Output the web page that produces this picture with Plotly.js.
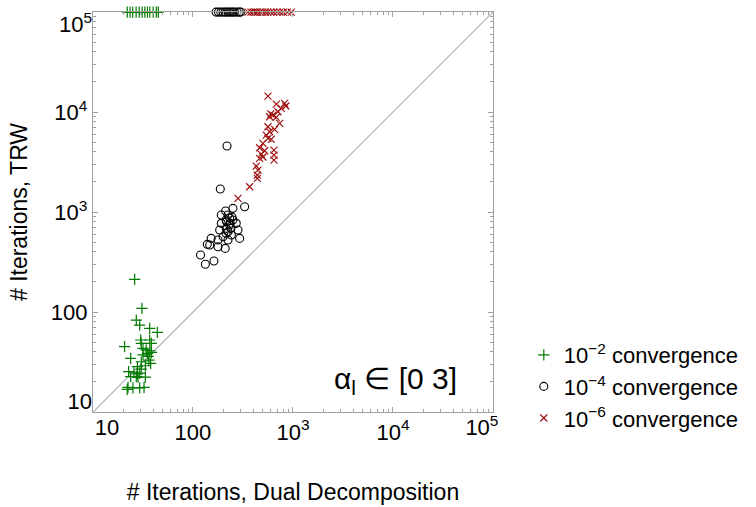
<!DOCTYPE html>
<html>
<head>
<meta charset="utf-8">
<script src="https://cdn.plot.ly/plotly-3.0.1.min.js"></script>
<style>html,body{margin:0;padding:0;background:#fff;}#chart{width:756px;height:507px;}</style>
</head>
<body>
<div id="chart"></div>
<script>
// 10^-2 convergence (green +)
const dd_e2 = [26.1,30.9,27.1,29.3,36.9,44,30,36.9,30.4,38.3,20.7,31.6,34,37,35,38.5,31.6,23.8,36.3,30.4,37.7,27.8,33.4,22.7,25.7,27.8,29.3,23.8,28.2,33.4,22.4,25.1,29.3,22,32.4,27.1,30.4,35.7,
  22,23.5,25,27,29,31,33,35,37,40,43,45];
const trw_e2 = [212,109,83,74,68.7,62.7,52.5,52.5,48.6,48.6,45,43.3,41.9,41,38.6,39.5,37.2,34.4,33.1,31.8,30.7,28.5,29,25.3,24.7,24,24.5,22.6,22.3,22.3,17.6,17.4,17.4,16.8,17.6,22.6,26.8,36,
  100000,100000,100000,100000,100000,100000,100000,100000,100000,100000,100000,100000];
// 10^-4 convergence (black o)
const dd_e4 = [219,187.6,328.5,251,212,224,214,251,271,192,233,215,240,185,282,224,214,242,200,293,152,178,224,147,178,210,139,119,133,162,233,246,236,192,217,
  170,180,190,200,210,220,230,240,250,260,275,290,300];
const trw_e4 = [4570,1698,1130,1089,1023,933,832,832,771,771,741,687,687,661,661,635,612,589,567,545,545,525,525,468,450,433,475,372,300,324,870,890,771,933,800,
  100000,100000,100000,100000,100000,100000,100000,100000,100000,100000,100000,100000,100000];
// 10^-6 convergence (red x)
const dd_e6 = [562,681,826,764,708,631,585,681,736,562,656,585,541,607,562,501,464,521,646,482,646,464,501,646,430,447,440,440,369,282,850,600,
  355,380,400,420,440,470,500,530,560,600,640,690,740,800,880,960];
const trw_e6 = [14450,12020,12200,10900,10070,9330,8980,8850,7700,7130,6710,6350,5890,5330,5450,4860,4400,4100,4170,3800,3715,3440,3550,3310,2880,2630,2340,2170,1790,1370,11500,9600,
  100000,100000,100000,100000,100000,100000,100000,100000,100000,100000,100000,100000,100000,100000,100000,100000];
const diag = [9, 100000];
const majorVals = [10, 100, 1000, 10000, 100000];
const midTickText = ['', '100', '10<sup>3</sup>', '10<sup>4</sup>', ''];
const lowTickText = ['10'];
const highTickText = ['10<sup>5</sup>'];
const legendNames = ['10<sup>−2</sup> convergence', '10<sup>−4</sup> convergence', '10<sup>−6</sup> convergence'];

const minorVals = [];
for (let d = 1; d <= 4; d++) for (let k = 2; k <= 9; k++) minorVals.push(k * Math.pow(10, d));

const green = '#007a00', red = '#a01010', grey = '#a0a0a0';
const fontFam = '"Liberation Sans", Arial, sans-serif';
const tickFont = {family: fontFam, size: 22, color: '#000'};
const xRange = [1, 5.001], yRange = [1, 5.001];
const traces = [
  {x: diag, y: diag, mode: 'lines', line: {color: '#b0b0b0', width: 1.2}, showlegend: false, hoverinfo: 'skip'},
  {x: dd_e2, y: trw_e2, mode: 'markers', name: legendNames[0], cliponaxis: false,
   marker: {symbol: 'cross-thin-open', size: 8, color: green, line: {color: green, width: 1.2}}},
  {x: dd_e4, y: trw_e4, mode: 'markers', name: legendNames[1], cliponaxis: false,
   marker: {symbol: 'circle-open', size: 8, color: '#000', line: {color: '#000', width: 1.1}}},
  {x: dd_e6, y: trw_e6, mode: 'markers', name: legendNames[2], cliponaxis: false,
   marker: {symbol: 'x-thin-open', size: 7, color: red, line: {color: red, width: 1.2}}},
  // empty carriers for the label-only overlay axes
  {x: [], y: [], xaxis: 'x2', yaxis: 'y', showlegend: false, hoverinfo: 'skip'},
  {x: [], y: [], xaxis: 'x3', yaxis: 'y', showlegend: false, hoverinfo: 'skip'},
  {x: [], y: [], xaxis: 'x', yaxis: 'y2', showlegend: false, hoverinfo: 'skip'},
  {x: [], y: [], xaxis: 'x', yaxis: 'y3', showlegend: false, hoverinfo: 'skip'}
];
const axisCommon = {
  type: 'log', showgrid: false, zeroline: false, showline: true, linecolor: grey, linewidth: 1.2,
  mirror: 'ticks', ticks: 'inside', ticklen: 5, tickcolor: grey, tickwidth: 1,
  tickmode: 'array', tickvals: majorVals, ticktext: midTickText, ticklabeloverflow: 'allow',
  tickfont: tickFont,
  minor: {ticks: 'inside', ticklen: 3, tickcolor: grey, tickvals: minorVals, tickmode: 'array'}
};
function labelAxis(overlay, range, vals, text, shift) {
  return {type: 'log', overlaying: overlay, range: range, showgrid: false, zeroline: false,
    showline: false, ticks: '', tickmode: 'array', tickvals: vals, ticktext: text,
    ticklabelshift: shift, ticklabeloverflow: 'allow', tickfont: tickFont};
}
const layout = {
  width: 756, height: 507,
  margin: {l: 93, r: 260, t: 12, b: 95},
  paper_bgcolor: '#fff', plot_bgcolor: '#fff',
  font: {family: fontFam, color: '#000'},
  xaxis: Object.assign({}, axisCommon, {range: xRange,
    title: {text: '# Iterations, Dual Decomposition', font: {family: fontFam, size: 23}, standoff: 40}}),
  yaxis: Object.assign({}, axisCommon, {range: yRange,
    title: {text: '# Iterations, TRW', font: {family: fontFam, size: 23}, standoff: 16}}),
  xaxis2: Object.assign(labelAxis('x', xRange, [10], lowTickText, 14), {side: 'bottom'}),
  xaxis3: Object.assign(labelAxis('x', xRange, [100000], highTickText, -11), {side: 'bottom'}),
  yaxis2: Object.assign(labelAxis('y', yRange, [100000], highTickText, 12), {side: 'left'}),
  yaxis3: Object.assign(labelAxis('y', yRange, [10], lowTickText, -11), {side: 'left'}),
  showlegend: true,
  legend: {x: 1.077, xanchor: 'left', y: 0.195, yanchor: 'top', bgcolor: 'rgba(0,0,0,0)',
    font: {family: fontFam, size: 22, color: '#000'}, itemwidth: 30, tracegroupgap: 0},
  annotations: [{xref: 'paper', yref: 'paper', x: 0.756, y: 0.08, xanchor: 'center', yanchor: 'middle',
    text: 'α<sub>l</sub> ∈ [0 3]', showarrow: false, font: {family: fontFam, size: 30, color: '#000'}}]
};
Plotly.newPlot('chart', traces, layout, {displayModeBar: false, staticPlot: true});
</script>
</body>
</html>
